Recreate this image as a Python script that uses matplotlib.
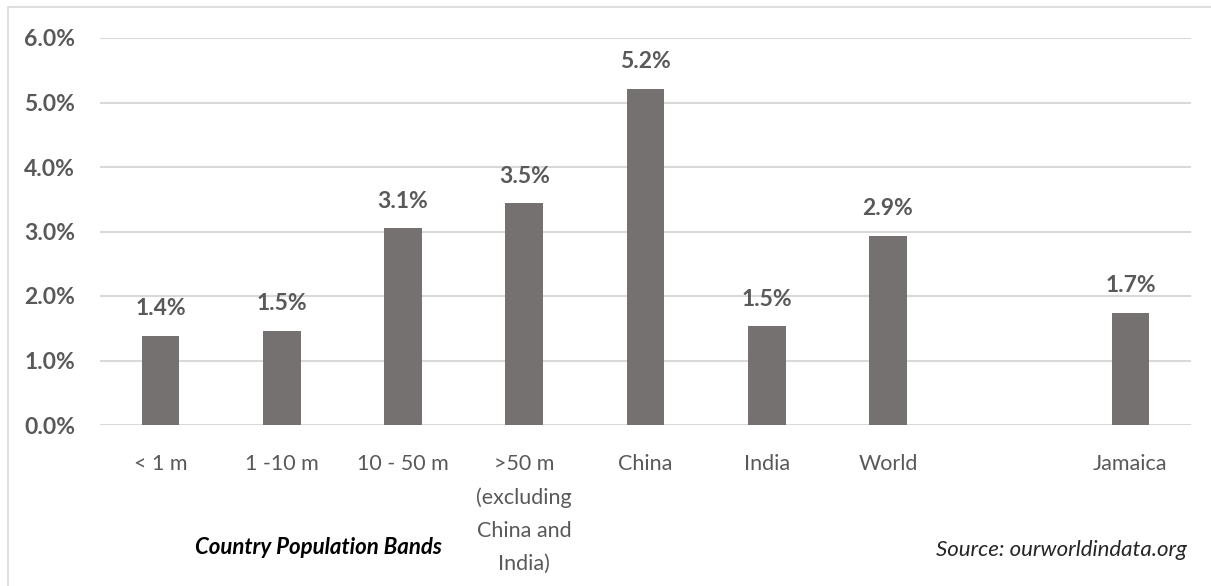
import matplotlib.pyplot as plt
from matplotlib.patches import Rectangle
from matplotlib.ticker import FuncFormatter

# Share of population (%) by country population band
categories = ["< 1 m", "1 -10 m", "10 - 50 m",
              ">50 m\n(excluding\nChina and\nIndia)",
              "China", "India", "World", "", "Jamaica"]
values = [1.38, 1.46, 3.05, 3.44, 5.21, 1.53, 2.93, None, 1.74]
value_labels = ["1.4%", "1.5%", "3.1%", "3.5%", "5.2%", "1.5%", "2.9%", "", "1.7%"]
y_ticks = [0, 1, 2, 3, 4, 5, 6]

BAR_COLOR = "#767171"
TEXT_COLOR = "#595959"
GRID_COLOR = "#D9D9D9"
FONT = ["Lato", "DejaVu Sans"]

plt.rcParams["font.family"] = FONT

fig = plt.figure(figsize=(12.11, 5.86), dpi=100)
ax = fig.add_axes([100 / 1211, 1 - 425 / 586, 1091 / 1211, 387 / 586])

# outer chart frame
fig.patches.append(Rectangle((8 / 1211, -0.05), 1.1, 1 - 7 / 586 + 0.05,
                             transform=fig.transFigure, fill=False,
                             edgecolor="#D9D9D9", linewidth=1.2))

xs = list(range(len(categories)))
for x, v, lab in zip(xs, values, value_labels):
    if v is None:
        continue
    ax.bar(x, v, width=0.31, color=BAR_COLOR, zorder=3)
    ax.annotate(lab, (x, v), xytext=(0, 19.5), textcoords="offset points",
                ha="center", va="center", fontsize=16.5, fontweight="bold",
                color=TEXT_COLOR)

ax.set_xlim(-0.5, 8.5)
ax.set_ylim(0, 6)
ax.set_yticks(y_ticks)
ax.yaxis.set_major_formatter(FuncFormatter(lambda v, _: "{:.1f}%".format(v)))
ax.set_xticks(xs)
ax.set_xticklabels(categories, linespacing=1.8, va="top")
ax.tick_params(axis="x", length=0, pad=21, labelsize=15.5, labelcolor=TEXT_COLOR)
ax.tick_params(axis="y", length=0, pad=18, labelsize=16.5, labelcolor=TEXT_COLOR)
for t in ax.get_yticklabels():
    t.set_fontweight("bold")

ax.grid(axis="y", color=GRID_COLOR, linewidth=1.5, zorder=0)
for s in ax.spines.values():
    s.set_visible(False)

fig.text(318 / 1211, 1 - 548 / 586, "Country Population Bands", ha="center",
         va="center", fontsize=16, fontweight="bold", fontstyle="italic",
         color="black")
fig.text(1187 / 1211, 1 - 550 / 586, "Source: ourworldindata.org", ha="right",
         va="center", fontsize=16, fontstyle="italic", color="#262626")

fig.savefig("out.png", dpi=100)
